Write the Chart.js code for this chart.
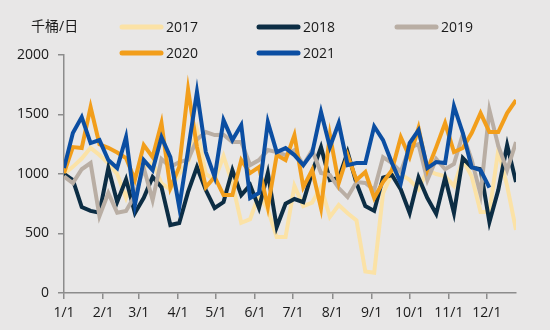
<!DOCTYPE html>
<html>
<head>
<meta charset="utf-8">
<script src="https://cdn.jsdelivr.net/npm/chart.js@4"></script>
<style>
  html, body { margin: 0; padding: 0; background: #e8e7e7; }
  #wrap { width: 550px; height: 330px; position: relative; }
</style>
</head>
<body>
<div id="wrap"><canvas id="chart"></canvas></div>
<script>
const unitLabel = '千桶/日';
const monthLabels = ['1/1', '2/1', '3/1', '4/1', '5/1', '6/1', '7/1', '8/1', '9/1', '10/1', '11/1', '12/1'];
const monthStartDays = [0, 31, 59, 90, 120, 151, 181, 212, 243, 273, 304, 334];
const yTicks = [0, 500, 1000, 1500, 2000];

// weekly values, week 0 = first week of January
const y2017 = [1000, 1060, 1130, 1220, 1160, 1090, 1000, 800, 1000, 1050, 1100, 920, 870, 1000, 1100, 1370,
  1000, 950, 1150, 920, 590, 620, 830, 700, 470, 470, 900, 730, 760, 890, 640, 740, 670, 610, 180, 170,
  840, 1000, 1000, 950, 870, 1030, 1000, 980, 900, 1120, 980, 680, 680, 1200, 900, 530];
const y2018 = [1000, 950, 722, 690, 675, 1050, 764, 955, 672, 800, 975, 890, 571, 588, 850, 1058,
  865, 714, 764, 1033, 823, 907, 714, 1008, 554, 750, 790, 764, 1016, 1226, 949, 966, 1184, 924, 730, 690,
  970, 991, 870, 672, 970, 798, 665, 970, 672, 1134, 1055, 1040, 596, 865, 1243, 932];
const y2019 = [980, 924, 1040, 1092, 645, 840, 675, 690, 820, 1050, 781, 1125, 1058, 1100, 1120, 1290,
  1352, 1327, 1330, 1268, 1268, 1075, 1117, 1201, 1184, 1159, 1201, 1075, 1200, 1008, 991, 882, 806, 932, 924, 865,
  1142, 1092, 1020, 1222, 1250, 949, 1126, 1040, 1084, 1336, 1117, 830, 1537, 1235, 1033, 1268];
const y2020 = [1008, 1226, 1218, 1562, 1250, 1220, 1180, 1134, 950, 1243, 1142, 1428, 882, 1058, 1710, 1226,
  890, 975, 823, 823, 1117, 1008, 1058, 722, 1159, 1117, 1327, 890, 1033, 714, 1327, 924, 1159, 949, 1016, 798,
  932, 1033, 1310, 1142, 1386, 1033, 1226, 1428, 1184, 1218, 1344, 1512, 1352, 1352, 1512, 1621];
const y2021 = [1050, 1344, 1478, 1260, 1285, 1117, 1050, 1310, 740, 1117, 1033, 1310, 1142, 722, 1200, 1690,
  1184, 975, 1453, 1285, 1411, 798, 840, 1436, 1184, 1218, 1159, 1075, 1176, 1520, 1226, 1428, 1075, 1092, 1092, 1400,
  1285, 1092, 924, 1260, 1369, 1050, 1100, 1092, 1570, 1344, 1058, 1033, 886];

const seriesNames = ['2017', '2018', '2019', '2020', '2021'];
const seriesData = [y2017, y2018, y2019, y2020, y2021];
const seriesColors = ['#fbe2a6', '#0c2d44', '#b9aea4', '#f29e1b', '#0b4ea2'];

const axisColor = '#8c8c8c';
const fontFamily = '"Open Sans", "Noto Sans CJK SC", sans-serif';

const datasets = seriesData.map((values, k) => ({
  label: seriesNames[k],
  data: values.map((v, i) => ({ x: i, y: v })),
  borderColor: seriesColors[k],
  backgroundColor: seriesColors[k],
  borderWidth: 4,
  pointRadius: 0,
  tension: 0,
  order: seriesData.length - k
}));

// legend drawn by hand to keep the two-row layout of the original
const legendPlugin = {
  id: 'manualLegend',
  afterDraw(chart) {
    const ctx = chart.ctx;
    ctx.save();
    ctx.font = '14px ' + fontFamily;
    ctx.fillStyle = '#1a1a1a';
    ctx.textBaseline = 'middle';
    ctx.textAlign = 'left';
    ctx.fillText(unitLabel, 31, 27);
    const cols = [120, 257, 395];
    seriesNames.forEach((name, k) => {
      const x = cols[k % 3];
      const y = k < 3 ? 27 : 53;
      ctx.strokeStyle = seriesColors[k];
      ctx.lineWidth = 5;
      ctx.lineCap = 'round';
      ctx.beginPath();
      ctx.moveTo(x + 2, y);
      ctx.lineTo(x + 41, y);
      ctx.stroke();
      ctx.fillStyle = '#1a1a1a';
      ctx.fillText(name, x + 46, y + 1);
    });
    ctx.restore();
  }
};

new Chart(document.getElementById('chart'), {
  type: 'line',
  data: { datasets },
  plugins: [legendPlugin],
  options: {
    responsive: true,
    maintainAspectRatio: false,
    animation: false,
    layout: { padding: { top: 55, right: 34, left: 0, bottom: 0 } },
    plugins: { legend: { display: false }, tooltip: { enabled: false } },
    scales: {
      x: {
        type: 'linear',
        min: 0,
        max: 51,
        afterBuildTicks: scale => { scale.ticks = monthStartDays.map(d => ({ value: d / 7 })); },
        afterFit: scale => { scale.height = 37; },
        ticks: {
          autoSkip: false,
          maxRotation: 0,
          padding: 6,
          color: '#1a1a1a',
          font: { size: 14, family: fontFamily },
          callback: (v, i) => monthLabels[i]
        },
        grid: { drawOnChartArea: false, drawTicks: true, tickLength: 6, color: axisColor, lineWidth: 1.5 },
        border: { display: true, color: axisColor, width: 1.5 }
      },
      y: {
        min: 0,
        max: 2000,
        afterBuildTicks: scale => { scale.ticks = yTicks.map(v => ({ value: v })); },
        afterFit: scale => { scale.width = 64; },
        ticks: {
          padding: 9,
          color: '#1a1a1a',
          font: { size: 14, family: fontFamily },
          callback: v => String(v)
        },
        grid: { drawOnChartArea: false, drawTicks: true, tickLength: 6, color: axisColor, lineWidth: 1.5 },
        border: { display: true, color: axisColor, width: 1.5 }
      }
    }
  }
});
</script>
</body>
</html>
